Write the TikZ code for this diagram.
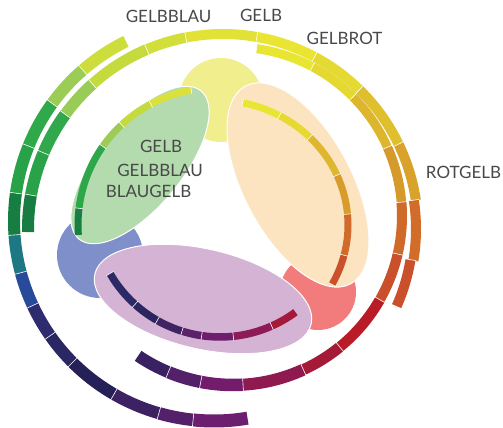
\documentclass[tikz,border=0pt]{standalone}
\usepackage{fontspec}
\setmainfont{Lato}
\definecolor{txt}{HTML}{484848}
\definecolor{yelfill}{HTML}{F1EE8D}
\definecolor{bluefill}{HTML}{7E8FC9}
\definecolor{redfill}{HTML}{F27B7B}
\definecolor{greenfill}{HTML}{B3DBAE}
\definecolor{orangefill}{HTML}{FCE4C0}
\definecolor{purplefill}{HTML}{D4B3D4}
% ring segment: cx cy r width a1 a2 hex
\newcommand\rseg[7]{%
  \definecolor{segc}{HTML}{#7}%
  \pgfmathsetmacro\rsD{((#6)>(#5)?0.15:-0.15)}%
  \pgfmathsetmacro\rsB{#6+(\rsD)}%
  \pgfmathsetmacro\rsI{#3-#4/2-0.6}%
  \pgfmathsetmacro\rsO{#3+#4/2+0.6}%
  \draw[segc, line width=#4pt] ([shift={(#1,#2)}]#5:#3) arc[start angle=#5, end angle=\rsB, radius=#3];%
  \draw[white, line width=0.6pt] ([shift={(#1,#2)}]#5:\rsI) -- ([shift={(#1,#2)}]#5:\rsO);%
}
% elliptic segment: cx cy rx ry width a1 a2 hex
\newcommand\eseg[8]{%
  \definecolor{segc}{HTML}{#8}%
  \pgfmathsetmacro\rsD{((#7)>(#6)?0.15:-0.15)}%
  \pgfmathsetmacro\rsB{#7+(\rsD)}%
  \pgfmathsetmacro\exI{#1+(#3-#5/2-0.6)*cos(#6)}%
  \pgfmathsetmacro\eyI{#2+(#4-#5/2-0.6)*sin(#6)}%
  \pgfmathsetmacro\exO{#1+(#3+#5/2+0.6)*cos(#6)}%
  \pgfmathsetmacro\eyO{#2+(#4+#5/2+0.6)*sin(#6)}%
  \draw[segc, line width=#5pt] ([shift={(#1,#2)}]#6:#3 and #4) arc[start angle=#6, end angle=\rsB, x radius=#3, y radius=#4];%
  \draw[white, line width=0.6pt] (\exI,\eyI) -- (\exO,\eyO);%
}
\tikzset{
  lbl/.style={text=txt, font=\fontsize{17}{19}\selectfont, inner sep=0pt, anchor=base},
  blob/.style={draw=white, line width=1pt}
}
\begin{document}
\begin{tikzpicture}[x=1pt,y=1pt]
\useasboundingbox (0,0) rectangle (503,428);
% circles
\fill[yelfill] (221,328) circle[radius=42];
\fill[bluefill] (100,173) circle[radius=43];
\fill[redfill] (318,136) circle[radius=38];
% ellipses
\filldraw[blob, fill=greenfill, rotate around={50.5:(140,263)}] (140,263) ellipse[x radius=96, y radius=42];
\filldraw[blob, fill=orangefill, rotate around={-62:(298,243)}] (298,243) ellipse[x radius=112, y radius=54];
\filldraw[blob, fill=purplefill, rotate around={-13:(203,129)}] (203,129) ellipse[x radius=111, y radius=50];

% ring 1 (outer left)
\rseg{214}{207}{200}{12}{116}{131}{CDDD3C}
\rseg{214}{207}{200}{12}{131}{144}{9BCC55}
\rseg{214}{207}{200}{12}{144}{158}{2FA94A}
\rseg{214}{207}{200}{12}{158}{172}{28A248}
\rseg{214}{207}{200}{12}{172}{184}{167E40}
\rseg{214}{207}{200}{12}{184}{195}{1E7884}
\rseg{214}{207}{200}{12}{195}{205}{284A9B}
\rseg{214}{207}{200}{12}{205}{215}{2E2C6E}
\rseg{214}{207}{200}{12}{215}{225}{2A2762}
\rseg{214}{207}{200}{12}{225}{240}{252058}
\rseg{214}{207}{200}{12}{240}{254}{3C2262}
\rseg{214}{207}{200}{12.5}{254}{264}{55206A}
\rseg{214}{207}{200}{13}{264}{279.5}{6C1E6F}

% ring 2 (top)
\rseg{223}{199}{195}{12}{181}{170}{187D41}
\rseg{223}{199}{195}{12}{170}{157}{2AA24A}
\rseg{223}{199}{195}{12}{157}{144}{30A84B}
\rseg{223}{199}{195}{11.5}{144}{132}{99CC57}
\rseg{223}{199}{195}{11}{132}{113}{C5DA3D}
\rseg{223}{199}{195}{10.5}{113}{101}{D2DF3A}
\rseg{223}{199}{195}{10}{101}{80}{E2E236}
\rseg{223}{199}{195}{10}{80}{62}{EAE532}
\rseg{223}{199}{195}{10}{62}{45.6}{E5DA31}
\rseg{223}{199}{195}{10}{45.6}{25.8}{E0BF2E}
\rseg{223}{199}{195}{10}{25.8}{8.6}{D8A22C}
\rseg{223}{199}{193}{10}{8.6}{-9.3}{D26C29}
\rseg{223}{199}{190}{10}{-9.3}{-23.8}{C9502A}

% ring 3 (inner right and bottom)
\rseg{233}{212}{169}{9}{82}{62}{E9E533}
\rseg{233}{212}{169}{9}{62}{44.8}{E5D831}
\rseg{233}{212}{169}{9}{44.8}{24}{DEB62E}
\rseg{233}{212}{169}{9.5}{24}{4.7}{D69A2B}
\rseg{233}{212}{169}{10}{4.7}{-13}{D06A28}
\rseg{233}{212}{169}{10}{-13}{-29.7}{C9502A}
\rseg{233}{212}{169}{10.5}{-29.7}{-50.8}{B81C26}
\rseg{233}{212}{169}{11}{-50.8}{-65.4}{A51A36}
\rseg{233}{212}{169}{12}{-65.4}{-86.6}{8E1A50}
\rseg{233}{212}{169}{12.5}{-86.6}{-101}{721C6B}
\rseg{233}{212}{169}{12.5}{-101}{-112.5}{54206A}
\rseg{233}{212}{169}{12}{-112.5}{-124}{3A2262}

% arc in green ellipse
\rseg{215}{203}{137}{7}{100}{118}{DCE03A}
\rseg{215}{203}{137}{7}{118}{133}{C5DA3E}
\rseg{215}{203}{137}{7}{133}{145}{9CCB56}
\rseg{215}{203}{137}{7}{145}{173}{2EA64A}
\rseg{215}{203}{137}{7}{173}{184}{187F42}

% arc in orange ellipse
\eseg{215}{203}{133}{125}{7}{78}{61}{E9E533}
\eseg{215}{203}{133}{125}{7}{61}{44.5}{E5D932}
\eseg{215}{203}{133}{125}{7}{44.5}{23.5}{DEB72E}
\eseg{215}{203}{133}{125}{7}{23.5}{5}{D89C2C}
\eseg{215}{203}{133}{125}{7}{5}{-14}{D06B29}
\eseg{215}{203}{133}{125}{7}{-14}{-28}{C9522B}

% arc in purple ellipse
\rseg{220}{218}{127}{7.5}{-150}{-132}{2B2A66}
\rseg{220}{218}{127}{7.5}{-132}{-119.6}{2C2660}
\rseg{220}{218}{127}{7.5}{-119.6}{-107.4}{3F2464}
\rseg{220}{218}{127}{7.5}{-107.4}{-98.3}{5B2169}
\rseg{220}{218}{127}{7.5}{-98.3}{-84}{6E1E6C}
\rseg{220}{218}{127}{7.5}{-84}{-66}{8D1B57}
\rseg{220}{218}{127}{7.5}{-66}{-53.7}{A51A3A}

% labels
\node[lbl] (tGelbblau) at (168.5,405) {GELBBLAU};
\node[lbl] (tGelb) at (261,406) {GELB};
\node[lbl] (tGelbrot) at (344.5,383) {GELBROT};
\node[lbl] (tRotgelb) at (463.5,249) {ROTGELB};
\node[lbl] (iGelb) at (161,275) {GELB};
\node[lbl] (iGelbblau) at (160,251) {GELBBLAU};
\node[lbl] (iBlaugelb) at (148.5,230) {BLAUGELB};
\end{tikzpicture}
\end{document}
